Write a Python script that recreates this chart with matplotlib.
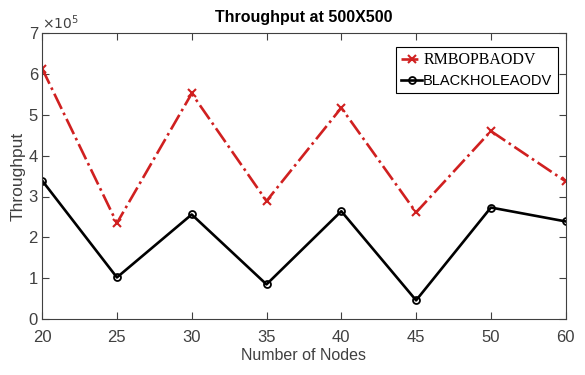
import numpy as np
import matplotlib.pyplot as plt

# Throughput vs number of nodes
nodes = ['20', '25', '30', '35', '40', '45', '50', '60']
rmbopbaodv = [6.13, 2.35, 5.52, 2.89, 5.17, 2.61, 4.60, 3.37]
blackholeaodv = [3.39, 1.02, 2.56, 0.85, 2.64, 0.46, 2.73, 2.39]
yticks = [0, 1, 2, 3, 4, 5, 6, 7]

narrow = ['Liberation Sans Narrow', 'DejaVu Sans Condensed', 'Liberation Sans', 'DejaVu Sans']
grey = '#404040'

fig = plt.figure(figsize=(5.85, 3.75), dpi=100)
ax = fig.add_axes([0.072, 0.149, 0.895, 0.763])

x = np.arange(len(nodes))
ax.plot(x, rmbopbaodv, color='#d02020', linestyle='-.', linewidth=1.9,
        marker='x', markersize=6, markeredgewidth=1.5, label='RMBOPBAODV')
ax.plot(x, blackholeaodv, color='black', linestyle='-', linewidth=1.9,
        marker='o', markersize=5, fillstyle='none', markeredgewidth=1.3,
        label='BLACKHOLEAODV')

ax.set_xlim(0, len(nodes) - 1)
ax.set_ylim(0, 7)
ax.set_xticks(x)
ax.set_xticklabels(nodes, family=narrow, fontsize=12, color=grey)
ax.set_yticks(yticks)
ax.set_yticklabels([str(v) for v in yticks], family=narrow, fontsize=12, color=grey)
ax.tick_params(direction='in', top=True, right=True, length=5, width=0.8,
               color=grey)
ax.tick_params(axis='x', pad=8)
ax.tick_params(axis='y', pad=3)
for s in ax.spines.values():
    s.set_color(grey)
    s.set_linewidth(0.8)

ax.text(0.0, 1.005, r'$\times10^5$', transform=ax.transAxes, fontsize=10,
        color=grey, va='bottom', ha='left', family='DejaVu Sans')

ax.set_title('Throughput at 500X500', family=narrow, fontsize=11.5,
             fontweight='bold', pad=8)
ax.set_xlabel('Number of Nodes', family=narrow, fontsize=11.5, color=grey, labelpad=2)
ax.set_ylabel('Throughput', family=['Liberation Sans', 'DejaVu Sans'], fontsize=12.5,
              color=grey, labelpad=2)

leg = ax.legend(loc='upper right', bbox_to_anchor=(0.99, 0.96), fancybox=False,
                framealpha=1, edgecolor='black', handlelength=1.4,
                handletextpad=0.1, borderpad=0.35, labelspacing=0.4,
                borderaxespad=0.2, prop={'family': narrow, 'size': 10.5})
leg.get_frame().set_linewidth(0.8)
leg.get_texts()[0].set_family(['Liberation Serif', 'DejaVu Serif'])
leg.get_texts()[0].set_fontsize(11.5)

fig.savefig('out.png', dpi=100)
